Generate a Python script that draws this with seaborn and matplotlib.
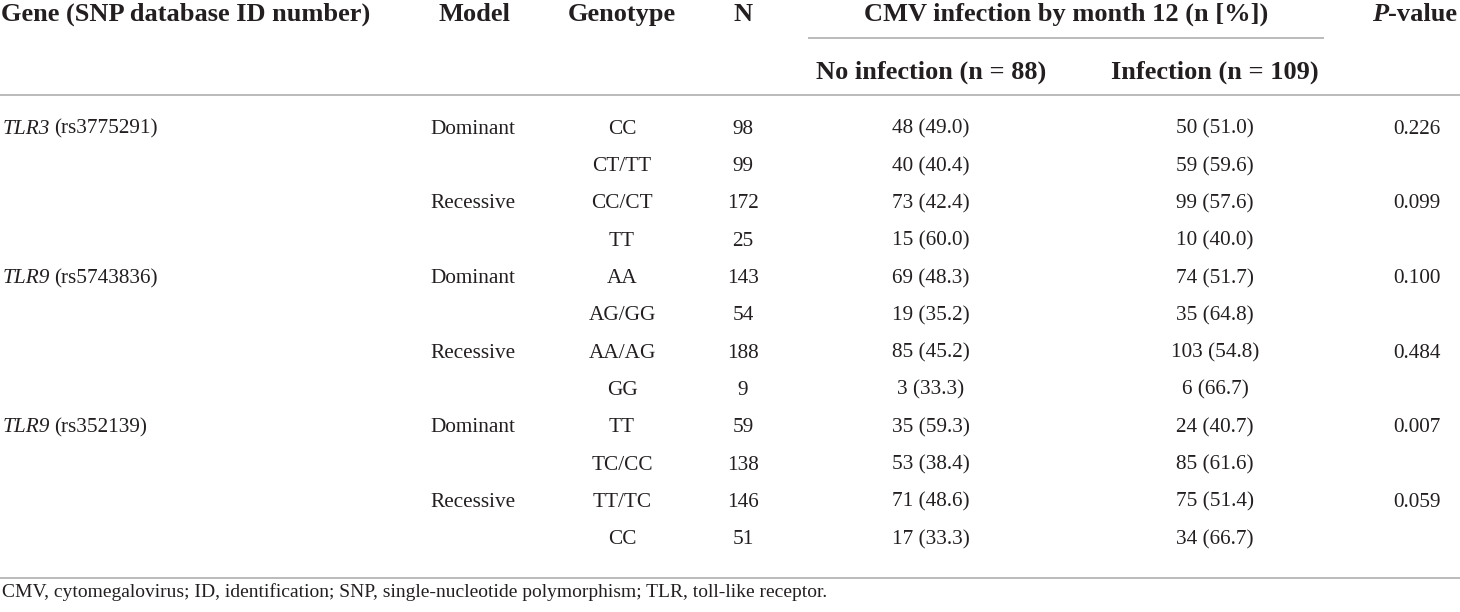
import matplotlib
matplotlib.use("Agg")
import matplotlib.pyplot as plt
import seaborn as sns

# ---- table data ----
genes = ["TLR3", "TLR9", "TLR9"]
snp_ids = ["rs3775291", "rs5743836", "rs352139"]
models = ["Dominant", "Recessive"]
genotypes = ["CC", "CT/TT", "CC/CT", "TT",
             "AA", "AG/GG", "AA/AG", "GG",
             "TT", "TC/CC", "TT/TC", "CC"]
n_total = [98, 99, 172, 25, 143, 54, 188, 9, 59, 138, 146, 51]
no_inf_n = [48, 40, 73, 15, 69, 19, 85, 3, 35, 53, 71, 17]
no_inf_pct = [49.0, 40.4, 42.4, 60.0, 48.3, 35.2, 45.2, 33.3, 59.3, 38.4, 48.6, 33.3]
inf_n = [50, 59, 99, 10, 74, 35, 103, 6, 24, 85, 75, 34]
inf_pct = [51.0, 59.6, 57.6, 40.0, 51.7, 64.8, 54.8, 66.7, 40.7, 61.6, 51.4, 66.7]
p_values = ["0.226", "0.099", "0.100", "0.484", "0.007", "0.059"]

headers = ["Gene (SNP database ID number)", "Model", "Genotype", "N"]
group_header = "CMV infection by month 12 (n [%])"
sub_headers = ["No infection (n = 88)", "Infection (n = 109)"]
footnote = ("CMV, cytomegalovirus; ID, identification; SNP, single-nucleotide "
            "polymorphism; TLR, toll-like receptor.")

sns.set_theme(style="white")
plt.rcParams["font.family"] = ["Liberation Serif", "DejaVu Serif"]

ink = "#231f20"
rule = "#b5b5b5"
hsize = 19
dsize = 15.3

fig = plt.figure(figsize=(14.6, 6.12), dpi=100)
ax = fig.add_axes([0, 0, 1, 1])
ax.set_xlim(0, 1460)
ax.set_ylim(612, 0)
ax.axis("off")
renderer = fig.canvas.get_renderer()


def right_edge(t):
    bb = t.get_window_extent(renderer=renderer)
    return ax.transData.inverted().transform((bb.x1, bb.y0))[0]


# column centres
x_model = 430
x_geno = 622
x_n = 743
x_no = 931
x_inf = 1215
x_p = 1417

# header
hb1, hb2 = 21, 78.5
hkw = dict(fontsize=hsize, fontweight="bold", color=ink, va="baseline")
ax.text(1, hb1, headers[0], **hkw)
ax.text(474, hb1, headers[1], ha="center", **hkw)
ax.text(x_geno, hb1, headers[2], ha="center", **hkw)
ax.text(x_n, hb1, headers[3], ha="center", **hkw)
ax.text(1066, hb1, group_header, ha="center", **hkw)
ax.text(x_no, hb2, sub_headers[0], ha="center", **hkw)
ax.text(x_inf, hb2, sub_headers[1], ha="center", **hkw)
tp = ax.text(1372, hb1, "P", fontstyle="italic", **hkw)
ax.text(right_edge(tp), hb1, "-value", **hkw)

# rules
ax.plot([808, 1324], [38, 38], color=rule, lw=1.3, solid_capstyle="butt")
ax.plot([0, 1460], [95, 95], color=rule, lw=1.3, solid_capstyle="butt")
ax.plot([0, 1460], [578, 578], color=rule, lw=1.3, solid_capstyle="butt")

# body
dkw = dict(fontsize=dsize, color=ink, va="baseline")
y0, step, off = 127, 37.3, 6.8
for i in range(len(genotypes)):
    yb = y0 + i * step + off
    if i % 4 == 0:
        g = i // 4
        tg = ax.text(3, yb, genes[g], fontstyle="italic", **dkw)
        ax.text(right_edge(tg) + 4, yb, "(" + snp_ids[g] + ")", **dkw)
    if i % 2 == 0:
        ax.text(x_model, yb, models[(i // 2) % 2], **dkw)
        ax.text(x_p, yb, p_values[i // 2], ha="center", **dkw)
    ax.text(x_geno, yb, genotypes[i], ha="center", **dkw)
    ax.text(x_n, yb, str(n_total[i]), ha="center", **dkw)
    ax.text(x_no, yb, f"{no_inf_n[i]} ({no_inf_pct[i]:.1f})", ha="center", **dkw)
    ax.text(x_inf, yb, f"{inf_n[i]} ({inf_pct[i]:.1f})", ha="center", **dkw)

ax.text(2, 597, footnote, fontsize=14.0, color=ink, va="baseline")

fig.savefig("out.png", dpi=100)
